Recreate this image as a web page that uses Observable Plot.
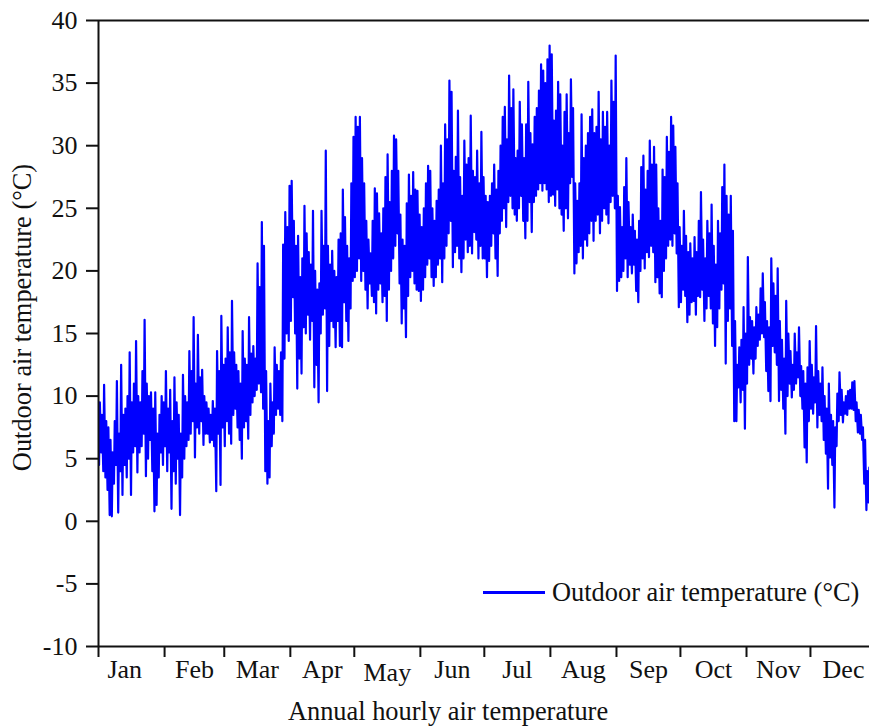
<!DOCTYPE html>
<html>
<head>
<meta charset="utf-8">
<script src="https://cdn.jsdelivr.net/npm/d3@7"></script>
<script src="https://cdn.jsdelivr.net/npm/@observablehq/plot@0.6"></script>
<style>
  html, body { margin: 0; padding: 0; background: #fff; overflow: hidden; }
  #wrap { position: relative; width: 869px; height: 728px; }
  #legend { position: absolute; left: 483px; top: 576px; height: 32px; display: flex; align-items: center;
            font-family: "Liberation Serif", "Times New Roman", serif; font-size: 26.4px; color: #111; white-space: nowrap; }
  #legend .sw { width: 62px; height: 0; border-top: 3px solid #0000ff; margin-right: 7px; }
</style>
</head>
<body>
<div id="wrap"><div id="legend"><span class="sw"></span><span id="legendText"></span></div></div>
<script>
const seriesName = "Outdoor air temperature (°C)";
const yTitle = "Outdoor air temperature (°C)";
const xTitle = "Annual hourly air temperature";
const monthNames = ["Jan","Feb","Mar","Apr","May","Jun","Jul","Aug","Sep","Oct","Nov","Dec"];
const monthStarts = [0,31,59,90,120,151,181,212,243,273,304,334];
const monthLabelDays = [12.3,45,74.5,105,135.5,166,196.5,227.5,258,288.5,319,349.5];
const yTicks = [-10,-5,0,5,10,15,20,25,30,35,40];

// Daily minimum and maximum temperatures (°C), day 0 = 1 Jan
const dailyMin = [
 4.5,5.5,4.0,3.5,2.5,0.5,0.4,3.0,4.5,0.7,4.0,2.1,4.5,3.5,5.0,2.1,5.5,6.0,3.9,5.5,6.0,7.0,3.6,5.0,6.5,4.0,0.8,1.3,3.5,5.5,4.5,
 6.0,4.0,5.5,1.0,4.0,3.0,5.0,0.5,3.5,5.0,6.0,6.5,7.0,8.0,5.1,7.5,7.0,8.0,6.1,7.0,7.0,6.3,6.5,6.0,2.4,7.0,2.9,7.5,
 6.0,8.0,7.0,6.2,8.5,9.0,7.5,6.5,5.0,7.5,8.0,6.6,8.5,9.5,10.0,10.5,11.0,10.3,9.0,4.0,3.0,3.5,6.0,7.0,8.5,9.0,8.5,8.0,13.0,15.0,14.4,
 16.0,17.9,15.0,10.6,13.0,11.8,15.5,15.0,16.5,14.5,16.0,10.7,12.5,9.5,15.0,16.5,17.0,10.4,14.0,16.0,15.5,13.9,16.0,14.0,13.9,17.5,16.0,14.4,17.0,19.2,
 19.5,20.0,21.0,19.2,20.0,18.5,17.0,19.0,18.0,17.5,16.6,18.5,19.0,17.5,18.0,16.0,18.5,20.0,21.0,22.0,23.0,19.0,15.8,17.0,14.7,18.0,19.5,20.0,19.0,18.5,18.4,
 17.6,18.5,19.5,20.5,21.0,19.5,18.8,19.5,20.5,21.0,19.1,21.0,22.0,23.0,24.0,20.3,21.5,22.0,21.0,19.9,21.0,22.5,21.5,22.0,21.4,23.1,22.5,21.0,22.0,21.0,
 21.0,19.5,20.8,22.0,23.0,21.0,19.6,23.0,24.0,25.0,23.5,25.5,26.0,25.0,24.5,24.0,25.0,26.0,24.0,22.6,24.0,25.5,23.1,25.5,26.0,26.5,27.0,26.4,27.0,26.5,25.5,
 26.0,26.1,25.2,26.5,25.0,24.5,23.2,25.0,24.2,27.0,27.5,19.8,20.6,21.5,22.0,21.0,22.5,22.0,23.0,24.0,22.4,24.0,24.5,23.0,24.0,25.0,24.5,23.8,25.5,26.0,25.0,
 18.4,19.2,19.5,20.0,21.0,19.5,20.5,19.8,20.5,18.4,17.5,20.0,21.0,20.2,21.5,21.1,22.0,21.5,19.1,19.5,18.2,17.9,20.0,21.0,22.0,22.5,22.0,23.0,21.4,17.1,
 17.5,18.5,18.0,15.9,16.5,17.5,17.6,16.5,18.0,17.9,18.5,16.0,17.0,18.0,17.0,15.8,14.0,15.5,17.0,18.5,19.0,12.6,16.0,17.0,14.0,8.0,8.0,10.7,9.5,10.5,7.4,
 11.0,12.5,13.0,11.8,13.0,14.0,14.5,15.0,14.7,12.0,10.4,9.6,14.0,13.5,12.5,9.6,10.5,9.0,7.0,10.0,11.0,9.9,10.5,11.0,11.5,10.0,9.0,5.9,4.7,8.0,
 9.0,8.6,9.5,7.5,8.5,8.0,6.5,5.4,2.6,5.1,4.5,1.1,6.0,8.0,8.5,7.9,8.6,8.5,9.0,9.0,8.9,8.0,7.1,7.0,6.5,3.0,0.9,1.5,2.0,3.0,3.5
];
const dailyMax = [
 9.5,8.5,10.9,8.0,7.5,6.5,5.5,8.0,11.2,7.0,12.5,8.5,9.0,10.0,13.5,9.5,11.0,14.4,10.0,9.5,12.0,16.1,11.0,10.0,10.3,9.0,10.3,7.0,8.5,10.0,9.5,
 12.0,9.0,10.5,8.0,11.5,9.5,8.5,7.0,11.7,10.0,9.5,13.6,12.0,16.3,11.0,14.9,11.5,12.1,10.0,9.5,9.0,8.5,9.6,9.0,13.6,12.0,16.4,12.5,
 13.0,15.5,13.5,17.6,13.5,12.5,12.0,11.0,15.2,13.0,12.5,16.3,13.4,14.0,13.0,20.6,18.7,23.9,22.0,12.0,8.0,11.0,9.5,13.9,12.5,12.0,13.5,22.1,24.7,23.5,26.8,
 27.2,24.0,22.0,22.8,19.5,21.0,25.2,23.0,21.5,20.5,24.8,20.0,18.5,19.0,24.8,22.0,29.6,22.0,20.5,21.6,20.0,19.5,22.5,23.0,26.5,24.3,22.0,21.0,27.0,30.7,
 32.3,31.5,32.3,29.0,27.0,24.0,22.5,21.4,24.0,26.6,26.2,24.6,23.0,25.0,27.5,29.3,25.5,28.0,30.8,30.5,28.0,24.5,22.5,22.0,25.4,27.7,26.0,27.9,26.5,26.4,24.5,
 23.5,25.0,27.0,28.4,28.0,25.0,24.0,25.6,26.5,30.0,27.0,31.7,30.5,35.2,34.3,28.0,29.1,32.8,27.5,26.0,30.4,28.5,29.0,32.4,28.0,27.5,29.6,27.0,31.1,27.5,
 26.0,25.5,26.0,27.0,28.5,26.5,28.0,30.0,32.3,33.1,30.5,35.6,33.0,34.5,29.0,29.6,33.5,31.7,29.0,31.7,35.1,31.0,30.1,32.3,33.0,34.4,36.5,36.0,35.0,36.9,38.0,
 37.3,32.0,32.8,35.1,34.1,30.0,32.7,34.1,31.0,35.3,33.0,27.0,25.6,27.0,32.5,29.0,30.0,31.0,32.3,32.9,31.0,31.5,34.3,30.5,32.7,31.5,32.7,30.0,35.2,33.5,37.2,
 26.0,25.1,23.5,26.7,29.0,25.5,23.5,24.5,23.2,22.5,24.0,28.3,29.2,26.5,28.0,30.4,28.5,29.9,28.5,25.0,24.0,28.1,27.5,30.7,29.5,32.3,31.6,29.9,27.0,23.5,
 22.0,24.8,22.8,21.5,22.2,21.0,22.7,21.5,24.0,26.3,22.5,21.0,24.0,23.0,25.3,22.0,20.5,24.0,23.0,26.7,28.5,26.0,24.5,26.0,23.2,16.0,12.5,13.9,14.5,17.1,15.0,
 21.1,16.3,16.0,15.5,17.1,16.5,18.6,19.8,17.5,16.0,15.5,21.0,19.0,18.0,20.2,16.0,14.5,13.0,17.6,15.0,13.6,12.5,15.0,13.5,15.5,12.4,12.0,11.0,12.3,14.4,
 12.5,11.5,15.6,12.0,11.0,12.3,10.0,9.0,11.0,8.5,8.0,7.5,10.2,11.9,10.5,9.5,10.0,10.4,10.5,11.1,11.2,9.5,8.9,8.5,7.5,6.5,4.0,4.3,5.0,6.0,6.5
];

// Hourly-like trace: morning minimum and afternoon maximum of each day
const series = [];
dailyMin.forEach((mn, d) => {
  series.push({t: d + 0.25, v: mn});
  series.push({t: d + 0.625, v: dailyMax[d]});
});

const font = "'Liberation Serif', 'Times New Roman', serif";
const labelFmt = d => monthNames[monthLabelDays.indexOf(d)];
const mayDay = monthLabelDays[monthNames.indexOf("May")];
const chart = Plot.plot({
  width: 869, height: 728,
  marginLeft: 98, marginRight: 0, marginTop: 20, marginBottom: 82,
  x: {domain: [0, 361.7], axis: null},
  y: {domain: [-10, 40], axis: null},
  style: {fontFamily: font, fontSize: "26px", color: "#111", background: "#fff", overflow: "hidden"},
  marks: [
    Plot.lineY(series, {x: "t", y: "v", stroke: "#0000ff", strokeWidth: 2.2, clip: true}),
    Plot.axisY({ticks: yTicks, tickSize: 12, tickPadding: 9, strokeWidth: 2, stroke: "#111", fontSize: 26, label: null, tickFormat: d => String(d)}),
    Plot.axisX({ticks: monthStarts, tickSize: 11, strokeWidth: 2, stroke: "#111", tickFormat: () => "", label: null}),
    Plot.axisX({ticks: monthLabelDays.filter(d => d !== mayDay), tickSize: 0, tickPadding: 13, fontSize: 26, label: null, tickFormat: labelFmt}),
    Plot.axisX({ticks: [mayDay], tickSize: 0, tickPadding: 16, fontSize: 26, label: null, tickFormat: labelFmt}),
    Plot.ruleX([0], {stroke: "#111", strokeWidth: 2}),
    Plot.ruleY([-10, 40], {stroke: "#111", strokeWidth: 2}),
    Plot.text([yTitle], {frameAnchor: "left", rotate: -90, textAnchor: "middle", lineAnchor: "middle", dx: -76, dy: -16, fontSize: 26.4, fill: "#111"}),
    Plot.text([xTitle], {frameAnchor: "bottom", textAnchor: "middle", lineAnchor: "middle", dx: -36, dy: 65.5, fontSize: 26.4, fill: "#111"})
  ]
});
document.getElementById("wrap").prepend(chart);
document.getElementById("legendText").textContent = seriesName;
</script>
</body>
</html>
